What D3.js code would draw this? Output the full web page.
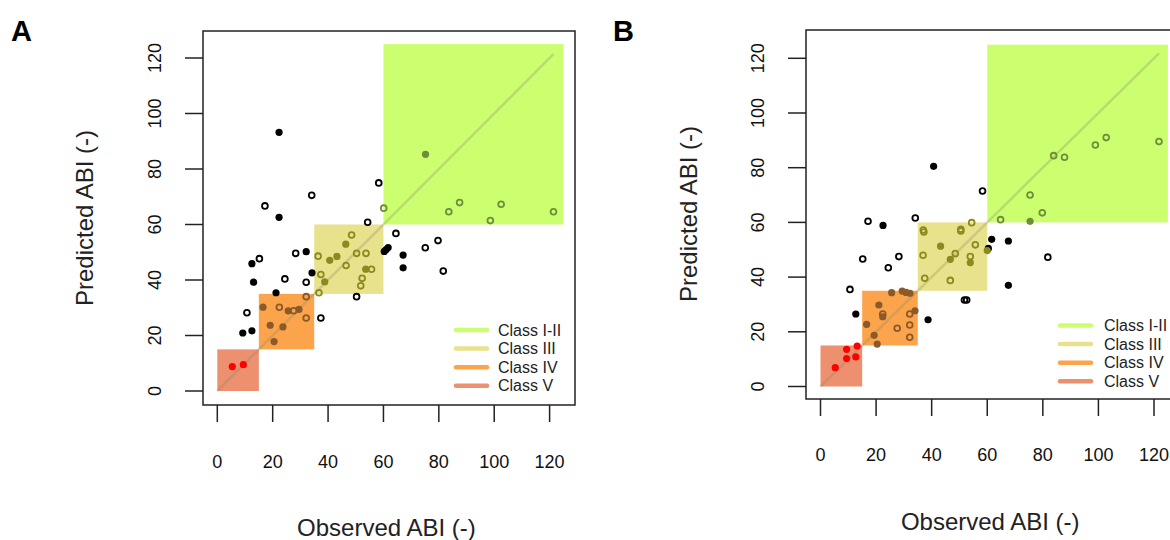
<!DOCTYPE html>
<html>
<head>
<meta charset="utf-8">
<script src="https://cdn.jsdelivr.net/npm/d3@7"></script>
<style>
  body { margin: 0; background: #fff; }
  svg { display: block; font-family: "Liberation Sans", Arial, sans-serif; }
</style>
</head>
<body>
<div id="chart"></div>
<script>
// class regions (same limits on both axes)
const classNames = ["Class I-II", "Class III", "Class IV", "Class V"];
const classLo = [60, 35, 15, 0];
const classHi = [125, 60, 35, 15];
const classFill = ["#ccff70", "#e8e28c", "#fca44c", "#ec9070"];
const classPoint = ["#6e8e3a", "#8c8a1e", "#8c5a28", "#ff0000"];

const ticks = [0, 20, 40, 60, 80, 100, 120];

// panel A: observed, predicted, filled (1) / open (0)
const obsA = [22.3, 58.3, 34.1, 17.2, 22.3, 60.1, 54.3, 75.2, 83.6, 87.5, 102.5, 98.6, 121.4,
  64.5, 60.3, 61.0, 61.7, 67.1, 67.1, 75.1, 79.7, 81.6, 15.2, 12.5, 28.3, 32.1, 34.2, 13.1,
  24.4, 32.1, 21.2, 10.7, 9.2, 12.5, 37.4, 50.3,
  48.5, 46.4, 36.4, 40.6, 43.2, 50.3, 53.7, 46.5, 37.4, 38.8, 53.6, 55.7, 52.3, 51.8, 36.7,
  16.5, 22.4, 25.6, 27.6, 29.5, 32.1, 32.1, 19.1, 23.7, 20.5,
  5.4, 9.4];
const predA = [93.2, 75.0, 70.5, 66.7, 62.6, 65.9, 60.8, 85.3, 64.6, 67.9, 67.3, 61.4, 64.6,
  56.8, 50.3, 51.0, 51.7, 49.0, 44.4, 51.6, 54.2, 43.2, 47.7, 45.9, 49.6, 50.2, 42.6, 39.2,
  40.4, 39.2, 35.4, 28.2, 20.9, 21.7, 26.3, 34.0,
  56.2, 52.9, 48.6, 47.1, 48.5, 49.6, 49.6, 45.2, 42.0, 39.3, 43.9, 43.9, 40.6, 37.9, 35.4,
  30.2, 30.2, 28.9, 28.9, 29.4, 34.0, 26.3, 23.7, 23.1, 17.8,
  8.8, 9.5];
const filledA = [1, 0, 0, 0, 1, 0, 0, 1, 0, 0, 0, 0, 0,
  0, 1, 1, 1, 1, 1, 0, 0, 0, 0, 1, 0, 1, 1, 1,
  0, 0, 1, 0, 1, 1, 0, 0,
  0, 1, 0, 1, 1, 0, 0, 0, 0, 1, 1, 0, 0, 0, 0,
  1, 0, 1, 0, 1, 0, 0, 1, 1, 1,
  1, 1];

// panel B
const obsB = [83.9, 87.8, 98.9, 102.8, 121.8, 58.3, 75.4, 79.8, 64.8, 75.4, 61.6, 67.6, 60.4,
  60.0, 81.8, 67.6, 40.7, 34.1, 17.1, 22.5, 15.2, 28.2, 24.4, 10.6,
  37.0, 37.2, 54.4, 50.5, 50.5, 43.2, 55.7, 36.9, 48.5, 46.7, 53.9, 53.9, 37.5, 46.7,
  51.8, 52.6, 12.7, 38.7,
  25.6, 29.4, 30.8, 32.2, 21.0, 22.4, 22.4, 32.1, 34.0, 32.1, 27.6, 16.6, 19.3, 32.1, 20.4,
  13.2, 9.4, 9.4, 12.7, 5.3];
const predB = [84.4, 83.8, 88.3, 91.0, 89.6, 71.5, 70.0, 63.5, 61.0, 60.4, 53.8, 53.2, 50.5,
  49.7, 47.3, 37.0, 80.5, 61.6, 60.4, 58.9, 46.6, 47.5, 43.4, 35.5,
  57.2, 56.5, 59.9, 57.5, 56.9, 51.3, 51.8, 48.0, 48.6, 46.5, 47.5, 45.3, 39.6, 38.8,
  31.6, 31.6, 26.5, 24.4,
  34.3, 34.9, 34.4, 34.1, 29.8, 26.5, 25.5, 26.5, 27.7, 22.5, 21.3, 22.7, 18.7, 18.0, 15.5,
  14.8, 13.6, 10.2, 10.8, 6.9];
const filledB = [0, 0, 0, 0, 0, 0, 0, 0, 0, 1, 1, 1, 1,
  1, 0, 1, 1, 0, 0, 1, 0, 0, 0, 0,
  0, 0, 0, 0, 0, 1, 0, 0, 0, 1, 0, 1, 0, 0,
  0, 0, 1, 1,
  1, 1, 1, 1, 1, 0, 1, 0, 1, 0, 0, 1, 1, 0, 1,
  1, 1, 1, 1, 1];

const W = 1170, H = 540;
const font = '"Liberation Sans", Arial, sans-serif';

const svg = d3.select("#chart").append("svg")
  .attr("width", W)
  .attr("height", H);

const panels = [
  { label: "A", obs: obsA, pred: predA, filled: filledA,
    letterX: 11, box: [203, 31, 575, 405], xr: [217.3, 549.6], yr: [391, 58],
    xTickY: 462, xTitleY: 528, yTickX: 155, yTitleX: 93, yTitleY: 218,
    legX: 456, legY: 330, legTextX: 498 },
  { label: "B", obs: obsB, pred: predB, filled: filledB,
    letterX: 613, box: [806, 30, 1178, 399], xr: [820.5, 1154], yr: [386.5, 58.3],
    xTickY: 455, xTitleY: 522, yTickX: 758, yTitleX: 697, yTitleY: 214,
    legX: 1060, legY: 325.5, legTextX: 1104 }
];

function regionOf(xv, yv) {
  for (let k = 0; k < classNames.length; k++) {
    if (xv >= classLo[k] && xv <= classHi[k] && yv >= classLo[k] && yv <= classHi[k]) return k;
  }
  return -1;
}

panels.forEach((p) => {
  const x = d3.scaleLinear().domain([0, 120]).range(p.xr);
  const y = d3.scaleLinear().domain([0, 120]).range(p.yr);
  const [bx0, by0, bx1, by1] = p.box;

  const g = svg.append("g");

  // panel letter
  svg.append("text")
    .attr("x", p.letterX)
    .attr("y", 41)
    .style("font-family", font)
    .style("font-weight", "bold")
    .style("font-size", "29px")
    .text(p.label);

  // class squares
  g.selectAll("rect.cls")
    .data(classNames)
    .enter()
    .append("rect")
    .attr("class", "cls")
    .attr("x", (d, i) => x(classLo[i]))
    .attr("y", (d, i) => y(classHi[i]))
    .attr("width", (d, i) => x(classHi[i]) - x(classLo[i]))
    .attr("height", (d, i) => y(classLo[i]) - y(classHi[i]))
    .attr("fill", (d, i) => classFill[i]);

  // 1:1 line
  const maxObs = d3.max(p.obs);
  g.append("line")
    .attr("x1", x(0)).attr("y1", y(0))
    .attr("x2", x(maxObs)).attr("y2", y(maxObs))
    .style("stroke", "#8a8a60")
    .style("stroke-opacity", 0.3)
    .style("stroke-width", 2.5);

  // points
  const pts = p.obs.map((o, i) => ({ o, pr: p.pred[i], f: p.filled[i] }));
  g.selectAll("circle.pt")
    .data(pts)
    .enter()
    .append("circle")
    .attr("class", "pt")
    .attr("cx", (d) => x(d.o))
    .attr("cy", (d) => y(d.pr))
    .attr("r", (d) => (d.f ? 3.6 : 2.9))
    .attr("fill", (d) => {
      const k = regionOf(d.o, d.pr);
      if (!d.f) return "none";
      return k < 0 ? "#000" : classPoint[k];
    })
    .attr("stroke", (d) => {
      const k = regionOf(d.o, d.pr);
      return k < 0 ? "#000" : classPoint[k];
    })
    .attr("stroke-width", (d) => (d.f ? 0 : 1.8));

  // box
  g.append("rect")
    .attr("x", bx0).attr("y", by0)
    .attr("width", bx1 - bx0).attr("height", by1 - by0)
    .attr("fill", "none")
    .attr("stroke", "#222")
    .attr("stroke-width", 1.5);

  // x axis ticks
  g.selectAll("line.xt")
    .data(ticks)
    .enter()
    .append("line")
    .attr("x1", (d) => x(d)).attr("x2", (d) => x(d))
    .attr("y1", by1).attr("y2", by1 + 17)
    .attr("stroke", "#222").attr("stroke-width", 1.5);

  g.selectAll("text.xl")
    .data(ticks)
    .enter()
    .append("text")
    .attr("x", (d) => x(d))
    .attr("y", p.xTickY)
    .attr("dy", "0.35em")
    .attr("text-anchor", "middle")
    .style("font-size", "18px")
    .style("fill", "#111")
    .text((d) => d);

  // y axis ticks
  g.selectAll("line.yt")
    .data(ticks)
    .enter()
    .append("line")
    .attr("y1", (d) => y(d)).attr("y2", (d) => y(d))
    .attr("x1", bx0).attr("x2", bx0 - 18)
    .attr("stroke", "#222").attr("stroke-width", 1.5);

  g.selectAll("text.yl")
    .data(ticks)
    .enter()
    .append("text")
    .attr("transform", (d) => `translate(${p.yTickX},${y(d)}) rotate(-90)`)
    .attr("dy", "0.35em")
    .attr("text-anchor", "middle")
    .style("font-size", "18px")
    .style("fill", "#111")
    .text((d) => d);

  // axis titles
  g.append("text")
    .attr("x", x(60) + 3)
    .attr("y", p.xTitleY)
    .attr("dy", "0.35em")
    .attr("text-anchor", "middle")
    .style("font-size", "24px")
    .style("fill", "#222")
    .text("Observed ABI (-)");

  g.append("text")
    .attr("transform", `translate(${p.yTitleX},${p.yTitleY}) rotate(-90)`)
    .attr("text-anchor", "middle")
    .style("font-size", "24px")
    .style("fill", "#222")
    .text("Predicted ABI (-)");

  // legend
  const leg = g.selectAll("g.leg")
    .data(classNames)
    .enter()
    .append("g")
    .attr("class", "leg")
    .attr("transform", (d, i) => `translate(0,${p.legY + i * 18.6})`);

  leg.append("line")
    .attr("x1", p.legX).attr("x2", p.legX + 31)
    .attr("y1", 0).attr("y2", 0)
    .attr("stroke", (d, i) => classFill[i])
    .attr("stroke-width", 4.5)
    .attr("stroke-linecap", "round");

  leg.append("text")
    .attr("x", p.legTextX)
    .attr("y", 0)
    .attr("dy", "0.35em")
    .style("font-size", "16px")
    .style("fill", "#222")
    .text((d) => d);
});
</script>
</body>
</html>
